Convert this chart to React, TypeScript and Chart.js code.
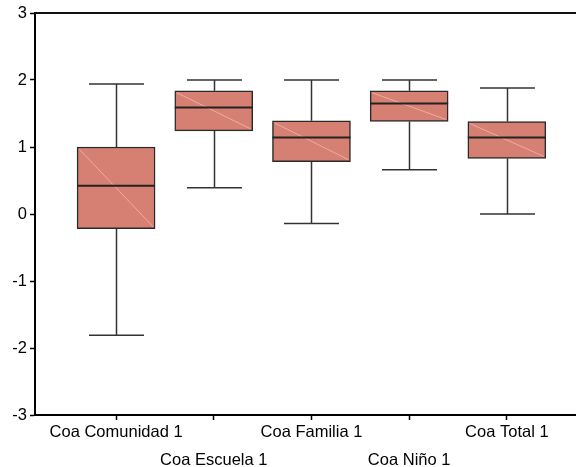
import React, { useEffect, useRef } from "react";
import { Chart, registerables } from "chart.js";

Chart.register(...registerables);

const categories = ["Coa Comunidad 1", "Coa Escuela 1", "Coa Familia 1", "Coa Niño 1", "Coa Total 1"];
const whiskerLow = [-1.81, 0.39, -0.14, 0.66, 0.0];
const q1 = [-0.22, 1.24, 0.78, 1.38, 0.83];
const median = [0.42, 1.59, 1.14, 1.65, 1.14];
const q3 = [1.0, 1.84, 1.39, 1.84, 1.38];
const whiskerHigh = [1.94, 2.0, 2.0, 2.0, 1.88];
const yMin = -3;
const yMax = 3;

const FONT = "Arial, 'Liberation Sans', Helvetica, sans-serif";

const boxPlugin = {
  id: "boxExtras",
  beforeDatasetsDraw(chart: any) {
    const { ctx, scales } = chart;
    const x = scales.x;
    const y = scales.y;
    const meta = chart.getDatasetMeta(0);
    ctx.save();
    ctx.strokeStyle = "#333333";
    ctx.lineWidth = 1.5;
    categories.forEach((_, i) => {
      const cx = Math.round(x.getPixelForValue(i)) + 0.5;
      const bar = meta.data[i];
      const capHalf = (bar.width / 2) * 0.705;
      const yHi = y.getPixelForValue(whiskerHigh[i]);
      const yLo = y.getPixelForValue(whiskerLow[i]);
      const yQ3 = y.getPixelForValue(q3[i]);
      const yQ1 = y.getPixelForValue(q1[i]);
      ctx.beginPath();
      ctx.moveTo(cx, yHi);
      ctx.lineTo(cx, yQ3);
      ctx.moveTo(cx, yQ1);
      ctx.lineTo(cx, yLo);
      ctx.moveTo(cx - capHalf, yHi);
      ctx.lineTo(cx + capHalf, yHi);
      ctx.moveTo(cx - capHalf, yLo);
      ctx.lineTo(cx + capHalf, yLo);
      ctx.stroke();
    });
    ctx.restore();
  },
  afterDatasetsDraw(chart: any) {
    const { ctx, scales, chartArea } = chart;
    const x = scales.x;
    const y = scales.y;
    const meta = chart.getDatasetMeta(0);
    ctx.save();
    categories.forEach((_, i) => {
      const cx = x.getPixelForValue(i);
      const bar = meta.data[i];
      const half = bar.width / 2;
      const yQ3 = y.getPixelForValue(q3[i]);
      const yQ1 = y.getPixelForValue(q1[i]);
      const yMed = y.getPixelForValue(median[i]);
      // diagonal highlight
      ctx.strokeStyle = "rgba(240,180,170,0.85)";
      ctx.lineWidth = 1;
      ctx.beginPath();
      ctx.moveTo(cx - half + 2, yQ3 + 2);
      ctx.lineTo(cx + half - 2, yQ1 - 2);
      ctx.stroke();
      // median
      ctx.strokeStyle = "#222222";
      ctx.lineWidth = 2;
      ctx.beginPath();
      ctx.moveTo(cx - half, yMed);
      ctx.lineTo(cx + half, yMed);
      ctx.stroke();
    });
    // top frame line
    ctx.strokeStyle = "#111111";
    ctx.lineWidth = 2;
    ctx.beginPath();
    ctx.moveTo(chartArea.left, chartArea.top);
    ctx.lineTo(chartArea.right, chartArea.top);
    ctx.stroke();
    ctx.restore();
  },
};

export default function App() {
  const ref = useRef<HTMLCanvasElement | null>(null);

  useEffect(() => {
    if (!ref.current) return;
    const chart = new Chart(ref.current, {
      type: "bar",
      data: {
        datasets: [
          {
            data: categories.map((_, i) => ({ x: i, y: [q1[i], q3[i]] })) as any,
            backgroundColor: "rgb(213,128,115)",
            borderColor: "#2a2a2a",
            borderWidth: 1.5,
            borderSkipped: false,
            barThickness: 78,
          },
        ],
      },
      options: {
        animation: false,
        responsive: true,
        maintainAspectRatio: false,
        layout: { padding: { top: 13, left: 0, right: 0, bottom: 0 } },
        plugins: { legend: { display: false }, tooltip: { enabled: false } },
        scales: {
          x: {
            type: "linear",
            min: -0.83,
            max: 4.708,
            offset: false,
            afterBuildTicks: (scale: any) => {
              scale.ticks = categories.map((_, i) => ({ value: i }));
            },
            afterFit: (scale: any) => {
              scale.height = 52;
            },
            grid: {
              offset: false,
              drawOnChartArea: false,
              drawTicks: true,
              tickLength: 5,
              tickColor: "#000",
              tickWidth: 1.5,
            },
            border: { display: true, color: "#000", width: 2 },
            ticks: {
              autoSkip: false,
              maxRotation: 0,
              minRotation: 0,
              padding: -2,
              color: "#000",
              font: { family: FONT, size: 16.5, lineHeight: 1.7 },
              callback: (v: any) => {
                const i = Math.round(Number(v));
                if (i < 0 || i >= categories.length) return "";
                return i % 2 === 0 ? categories[i] : ["", categories[i]];
              },
            },
          },
          y: {
            type: "linear",
            min: yMin,
            max: yMax,
            afterFit: (scale: any) => {
              scale.width = 35;
            },
            grid: {
              drawOnChartArea: false,
              drawTicks: true,
              tickLength: 5,
              tickColor: "#000",
              tickWidth: 1.5,
            },
            border: { display: true, color: "#000", width: 2 },
            ticks: {
              stepSize: 1,
              padding: 3,
              color: "#000",
              font: { family: FONT, size: 16.5 },
            },
          },
        },
      },
      plugins: [boxPlugin],
    } as any);
    return () => chart.destroy();
  }, []);

  return (
    <div style={{ position: "absolute", left: 0, top: 0, width: 576, height: 467, background: "#fff" }}>
      <canvas ref={ref} />
    </div>
  );
}
